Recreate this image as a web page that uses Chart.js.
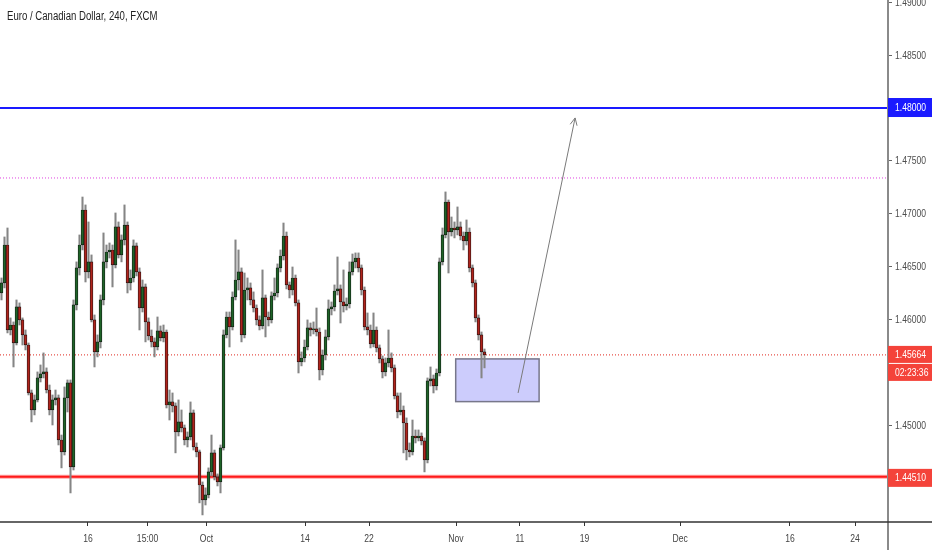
<!DOCTYPE html>
<html lang="en">
<head>
<meta charset="utf-8">
<title>Euro / Canadian Dollar, 240, FXCM</title>
<script src="https://cdn.jsdelivr.net/npm/chart.js@4.4.1/dist/chart.umd.min.js"></script>
<style>
  html, body { margin: 0; padding: 0; background: #fff; overflow: hidden; }
  canvas { display: block; }
</style>
</head>
<body>
<canvas id="myChart" width="932" height="550"></canvas>
<script>
// EUR/CAD 240 candles (one slot per candle)
const opens = [
    1.46250, 1.46345, 1.46704, 1.45900, 1.45947, 1.45777, 1.46118, 1.45995, 1.45853, 1.45758,
    1.45304, 1.45143, 1.45238, 1.45446, 1.45484, 1.45503, 1.45332, 1.45143, 1.45238, 1.45257,
    1.44859, 1.44746, 1.45257, 1.45399, 1.44604, 1.46137, 1.46487, 1.46704, 1.47035, 1.46449,
    1.46544, 1.45995, 1.45692, 1.45787, 1.46184, 1.46544, 1.46638, 1.46657, 1.46515, 1.46875,
    1.46610, 1.46752, 1.46893, 1.46345, 1.46392, 1.46695, 1.46449, 1.46108, 1.46307, 1.45976,
    1.45843, 1.45787, 1.45739, 1.45891, 1.45825, 1.45881, 1.45190, 1.45219, 1.45181, 1.44935,
    1.45030, 1.44973, 1.44859, 1.44888, 1.45115, 1.44793, 1.44746, 1.44433, 1.44292, 1.44339,
    1.44557, 1.44737, 1.44510, 1.44462, 1.44784, 1.45853, 1.46023, 1.45929, 1.46212, 1.46373,
    1.46449, 1.45853, 1.46278, 1.46298, 1.46184, 1.46108, 1.45995, 1.45938, 1.46203, 1.46023,
    1.45995, 1.46222, 1.46250, 1.46487, 1.46600, 1.46789, 1.46326, 1.46278, 1.46392, 1.46156,
    1.45598, 1.45635, 1.45739, 1.45919, 1.45900, 1.45910, 1.45881, 1.45521, 1.45663, 1.45834,
    1.46099, 1.46118, 1.46269, 1.46288, 1.46165, 1.46127, 1.46146, 1.46449, 1.46544, 1.46581,
    1.46487, 1.46278, 1.45929, 1.45900, 1.45768, 1.45900, 1.45730, 1.45626, 1.45503, 1.45588,
    1.45635, 1.45541, 1.45276, 1.45124, 1.45143, 1.45020, 1.44764, 1.44746, 1.44897, 1.44879,
    1.44897, 1.44850, 1.44670, 1.45418, 1.45437, 1.45370, 1.45493, 1.46544, 1.46799, 1.47111,
    1.46827, 1.46865, 1.46846, 1.46875, 1.46789, 1.46742, 1.46827, 1.46487, 1.46345, 1.46014,
    1.45853, 1.45692
];
const highs = [
    1.46392, 1.46780, 1.46865, 1.46014, 1.45976, 1.46184, 1.46156, 1.46014, 1.45900, 1.45777,
    1.45332, 1.45285, 1.45503, 1.45569, 1.45683, 1.45541, 1.45379, 1.45285, 1.45332, 1.45285,
    1.44906, 1.45361, 1.45427, 1.45427, 1.46184, 1.46544, 1.46799, 1.47158, 1.47083, 1.46922,
    1.46610, 1.46042, 1.45853, 1.46231, 1.46818, 1.46704, 1.46723, 1.46704, 1.47007, 1.46922,
    1.46799, 1.47083, 1.46922, 1.46468, 1.46752, 1.46723, 1.46487, 1.46373, 1.46335, 1.46014,
    1.45900, 1.45825, 1.46023, 1.45938, 1.45947, 1.45900, 1.45332, 1.45304, 1.45210, 1.45238,
    1.45143, 1.45001, 1.44935, 1.45219, 1.45143, 1.44831, 1.44764, 1.44462, 1.44406, 1.44595,
    1.44906, 1.44764, 1.44538, 1.44812, 1.45900, 1.46070, 1.46070, 1.46260, 1.46752, 1.46657,
    1.46487, 1.46439, 1.46392, 1.46345, 1.46260, 1.46137, 1.46033, 1.46468, 1.46231, 1.46070,
    1.46260, 1.46392, 1.46525, 1.46657, 1.46912, 1.46827, 1.46354, 1.46496, 1.46420, 1.46184,
    1.45692, 1.45805, 1.45995, 1.45966, 1.45976, 1.46108, 1.45919, 1.45711, 1.45900, 1.46184,
    1.46165, 1.46326, 1.46591, 1.46326, 1.46468, 1.46203, 1.46544, 1.46619, 1.46629, 1.46629,
    1.46515, 1.46307, 1.46061, 1.45947, 1.46061, 1.45929, 1.45758, 1.45654, 1.45635, 1.45900,
    1.45683, 1.45569, 1.45304, 1.45304, 1.45181, 1.45068, 1.44831, 1.45048, 1.44954, 1.44954,
    1.44926, 1.44879, 1.45446, 1.45550, 1.45474, 1.45531, 1.46581, 1.46865, 1.47206, 1.47130,
    1.46969, 1.46922, 1.47064, 1.46922, 1.46827, 1.46941, 1.46865, 1.46515, 1.46373, 1.46042,
    1.45881, 1.45720
];
const lows = [
    1.46184, 1.46298, 1.45872, 1.45853, 1.45550, 1.45758, 1.45947, 1.45758, 1.45711, 1.45285,
    1.45030, 1.45096, 1.45219, 1.45408, 1.45446, 1.45304, 1.45096, 1.45001, 1.45190, 1.44812,
    1.44595, 1.44717, 1.45124, 1.44358, 1.44575, 1.46089, 1.46420, 1.46657, 1.46354, 1.46392,
    1.45976, 1.45550, 1.45645, 1.45730, 1.46137, 1.46487, 1.46581, 1.46307, 1.46487, 1.46581,
    1.46544, 1.46704, 1.46250, 1.46278, 1.46354, 1.46411, 1.45900, 1.46070, 1.45787, 1.45805,
    1.45739, 1.45645, 1.45711, 1.45796, 1.45787, 1.45162, 1.45048, 1.45124, 1.44737, 1.44897,
    1.44935, 1.44812, 1.44793, 1.44859, 1.44764, 1.44699, 1.44264, 1.44150, 1.44244, 1.44311,
    1.44519, 1.44481, 1.44424, 1.44358, 1.44764, 1.45825, 1.45739, 1.45900, 1.46184, 1.46278,
    1.45787, 1.45825, 1.46184, 1.46137, 1.46070, 1.45947, 1.45900, 1.45910, 1.45834, 1.45938,
    1.45966, 1.46184, 1.46212, 1.46449, 1.46562, 1.46288, 1.46203, 1.46231, 1.46127, 1.45493,
    1.45560, 1.45598, 1.45711, 1.45843, 1.45862, 1.45843, 1.45427, 1.45474, 1.45616, 1.45805,
    1.46042, 1.46080, 1.46231, 1.45966, 1.46070, 1.46089, 1.46108, 1.46420, 1.46487, 1.46449,
    1.46231, 1.45900, 1.45853, 1.45730, 1.45739, 1.45692, 1.45588, 1.45446, 1.45465, 1.45550,
    1.45503, 1.45247, 1.45068, 1.45096, 1.44737, 1.44670, 1.44699, 1.44717, 1.44831, 1.44850,
    1.44812, 1.44557, 1.44642, 1.45370, 1.45304, 1.45332, 1.45465, 1.46515, 1.46771, 1.46439,
    1.46789, 1.46771, 1.46799, 1.46752, 1.46657, 1.46704, 1.46449, 1.46307, 1.45976, 1.45805,
    1.45446, 1.45541
];
const closes = [
    1.46345, 1.46704, 1.45900, 1.45947, 1.45777, 1.46118, 1.45995, 1.45853, 1.45758, 1.45304,
    1.45143, 1.45238, 1.45446, 1.45484, 1.45503, 1.45332, 1.45143, 1.45238, 1.45257, 1.44859,
    1.44746, 1.45257, 1.45399, 1.44604, 1.46137, 1.46487, 1.46704, 1.47035, 1.46449, 1.46544,
    1.45995, 1.45692, 1.45787, 1.46184, 1.46544, 1.46638, 1.46657, 1.46515, 1.46875, 1.46610,
    1.46752, 1.46893, 1.46345, 1.46392, 1.46695, 1.46449, 1.46108, 1.46307, 1.45976, 1.45843,
    1.45787, 1.45739, 1.45891, 1.45825, 1.45881, 1.45190, 1.45219, 1.45181, 1.44935, 1.45030,
    1.44973, 1.44859, 1.44888, 1.45115, 1.44793, 1.44746, 1.44433, 1.44292, 1.44339, 1.44557,
    1.44737, 1.44510, 1.44462, 1.44784, 1.45853, 1.46023, 1.45929, 1.46212, 1.46373, 1.46449,
    1.45853, 1.46278, 1.46298, 1.46184, 1.46108, 1.45995, 1.45938, 1.46203, 1.46023, 1.45995,
    1.46222, 1.46250, 1.46487, 1.46600, 1.46789, 1.46326, 1.46278, 1.46392, 1.46156, 1.45598,
    1.45635, 1.45739, 1.45919, 1.45900, 1.45910, 1.45881, 1.45521, 1.45663, 1.45834, 1.46099,
    1.46118, 1.46269, 1.46288, 1.46165, 1.46127, 1.46146, 1.46449, 1.46544, 1.46581, 1.46487,
    1.46278, 1.45929, 1.45900, 1.45768, 1.45900, 1.45730, 1.45626, 1.45503, 1.45588, 1.45635,
    1.45541, 1.45276, 1.45124, 1.45143, 1.45020, 1.44764, 1.44746, 1.44897, 1.44879, 1.44897,
    1.44850, 1.44670, 1.45418, 1.45437, 1.45370, 1.45493, 1.46544, 1.46799, 1.47111, 1.46827,
    1.46865, 1.46846, 1.46875, 1.46789, 1.46742, 1.46827, 1.46487, 1.46345, 1.46014, 1.45853,
    1.45692, 1.45664
];

const xTickLabels = ['16', '15:00', 'Oct', '14', '22', 'Nov', '11', '19', 'Dec', '16', '24'];
const xTickSlots = [28.8, 48.7, 68.3, 101.2, 122.5, 151.5, 172.8, 194.3, 226.2, 262.8, 284.5];
const yTicks = [1.450, 1.455, 1.460, 1.465, 1.470, 1.475, 1.480, 1.485, 1.490];
const slotCount = 296;
const priceMin = 1.44083;
const priceMax = 1.49022;

// drawn levels and the long setup
const resistance = 1.48000;
const support = 1.44510;
const upperDotted = 1.47338;
const lastPrice = 1.45664;
const countdown = '02:23:36';
const zoneBox = [151.4, 179.2, 1.45626, 1.45222]; // from slot, to slot, top, bottom
const arrowFrom = [172.2, 1.45304];
const arrowTo = [191.2, 1.47906];

const sans = '"Liberation Sans", Arial, sans-serif';
const squeeze = 0.78; // no narrow face installed, so squeeze the text horizontally

const wickData = closes.map((c, i) => ({ x: i, y: [lows[i], highs[i]] }));
const bodyData = closes.map((c, i) => ({ x: i, y: [opens[i], c] }));
const bodyColors = closes.map((c, i) => c >= opens[i] ? '#1f6428' : '#b0241c');

function hLine(ctx, area, py, color, width, dash) {
    ctx.save();
    ctx.strokeStyle = color;
    ctx.lineWidth = width;
    ctx.setLineDash(dash || []);
    ctx.beginPath();
    ctx.moveTo(area.left, py);
    ctx.lineTo(area.right, py);
    ctx.stroke();
    ctx.restore();
}

function narrowText(ctx, text, px, py, size, color, align, squeezeBy) {
    ctx.save();
    ctx.font = size + 'px ' + sans;
    ctx.fillStyle = color;
    ctx.textAlign = align;
    ctx.textBaseline = 'middle';
    ctx.translate(px, py);
    ctx.scale(squeezeBy || squeeze, 1);
    ctx.fillText(text, 0, 0);
    ctx.restore();
}

function tag(ctx, left, top, h, text, color) {
    ctx.fillStyle = color;
    ctx.fillRect(left, top, 44, h);
    narrowText(ctx, text, left + 7, top + h / 2 + 0.5, 11, '#ffffff', 'left');
}

const overlay = {
    id: 'overlay',
    beforeDatasetsDraw(chart) {
        const { ctx, chartArea: a, scales: { x, y } } = chart;

        // target zone
        const bx1 = x.getPixelForValue(zoneBox[0]);
        const bx2 = x.getPixelForValue(zoneBox[1]);
        const by1 = y.getPixelForValue(zoneBox[2]);
        const by2 = y.getPixelForValue(zoneBox[3]);
        ctx.save();
        ctx.fillStyle = '#ccccfc';
        ctx.fillRect(bx1, by1, bx2 - bx1, by2 - by1);
        ctx.strokeStyle = '#77778a';
        ctx.lineWidth = 1.5;
        ctx.strokeRect(bx1, by1, bx2 - bx1, by2 - by1);
        ctx.restore();

        hLine(ctx, a, y.getPixelForValue(upperDotted), '#e040e0', 1, [1, 2]);
        hLine(ctx, a, y.getPixelForValue(lastPrice), '#e0281e', 1, [1, 2]);
        hLine(ctx, a, y.getPixelForValue(resistance), '#1a1aff', 2);
        hLine(ctx, a, y.getPixelForValue(support), 'rgba(255,60,60,0.45)', 4);
        hLine(ctx, a, y.getPixelForValue(support), '#ff1a1a', 2);
    },
    afterDraw(chart) {
        const { ctx, chartArea: a, scales: { x, y } } = chart;
        ctx.save();

        // arrow
        const fx = x.getPixelForValue(arrowFrom[0]), fy = y.getPixelForValue(arrowFrom[1]);
        const tx = x.getPixelForValue(arrowTo[0]), ty = y.getPixelForValue(arrowTo[1]);
        const ang = Math.atan2(ty - fy, tx - fx);
        ctx.strokeStyle = '#7a7a7a';
        ctx.lineWidth = 1;
        ctx.beginPath();
        ctx.moveTo(fx, fy);
        ctx.lineTo(tx, ty);
        ctx.moveTo(tx - 8 * Math.cos(ang - 0.45), ty - 8 * Math.sin(ang - 0.45));
        ctx.lineTo(tx, ty);
        ctx.lineTo(tx - 8 * Math.cos(ang + 0.45), ty - 8 * Math.sin(ang + 0.45));
        ctx.stroke();

        // axis lines
        ctx.strokeStyle = '#8a8a8a';
        ctx.lineWidth = 2;
        ctx.beginPath();
        ctx.moveTo(a.right, 0);
        ctx.lineTo(a.right, chart.height);
        ctx.stroke();
        ctx.strokeStyle = '#333333';
        ctx.lineWidth = 1.5;
        ctx.beginPath();
        ctx.moveTo(0, a.bottom);
        ctx.lineTo(chart.width, a.bottom);
        ctx.stroke();
        ctx.restore();

        // axis labels (drawn here so they can be squeezed like the original narrow face)
        y.ticks.forEach(t => {
            narrowText(ctx, t.value.toFixed(5), a.right + 7, y.getPixelForValue(t.value) + 0.5, 11, '#4d4d4d', 'left');
        });
        x.ticks.forEach((t, i) => {
            narrowText(ctx, xTickLabels[i], x.getPixelForValue(t.value), a.bottom + 16.5, 11, '#444444', 'center');
        });

        // price tags
        const rY = y.getPixelForValue(resistance);
        const sY = y.getPixelForValue(support);
        const lY = y.getPixelForValue(lastPrice);
        tag(ctx, a.right, rY - 10, 19, resistance.toFixed(5), '#1a1aff');
        tag(ctx, a.right, lY - 9, 17, lastPrice.toFixed(5), '#f4433a');
        tag(ctx, a.right, lY + 9, 17, countdown, '#f4433a');
        tag(ctx, a.right, sY - 8, 18, support.toFixed(5), '#f4433a');

        // title
        narrowText(ctx, 'Euro / Canadian Dollar, 240, FXCM', 7, 17, 12, '#222222', 'left', 0.8);
    }
};

const ctx = document.getElementById('myChart');

new Chart(ctx, {
    type: 'bar',
    data: {
        datasets: [{
            label: 'body',
            data: bodyData,
            backgroundColor: bodyColors,
            borderColor: '#111111',
            borderWidth: 0.7,
            borderSkipped: false,
            barThickness: 2.9,
            minBarLength: 1,
            order: 1
        }, {
            label: 'wick',
            data: wickData,
            backgroundColor: '#858585',
            borderWidth: 0,
            barThickness: 1.4,
            order: 2
        }]
    },
    options: {
        responsive: false,
        animation: false,
        layout: { padding: 0 },
        datasets: { bar: { grouped: false } },
        plugins: {
            legend: { display: false },
            tooltip: { enabled: false }
        },
        scales: {
            x: {
                type: 'linear',
                min: -0.5,
                max: slotCount - 0.5,
                offset: false,
                afterBuildTicks: s => { s.ticks = xTickSlots.map(v => ({ value: v })); },
                afterFit: s => { s.height = 28; s.paddingLeft = 0; s.paddingRight = 0; },
                grid: { display: true, offset: false, drawOnChartArea: false, tickLength: 4, tickColor: '#333333' },
                border: { display: false },
                ticks: { display: false, autoSkip: false, maxRotation: 0 }
            },
            y: {
                type: 'linear',
                position: 'right',
                min: priceMin,
                max: priceMax,
                beginAtZero: false,
                afterBuildTicks: s => { s.ticks = yTicks.map(v => ({ value: v })); },
                afterFit: s => { s.width = 44; s.paddingTop = 0; s.paddingBottom = 0; },
                grid: { display: true, drawOnChartArea: false, tickLength: 4, tickColor: '#666666' },
                border: { display: false },
                ticks: { display: false }
            }
        }
    },
    plugins: [overlay]
});
</script>
</body>
</html>
